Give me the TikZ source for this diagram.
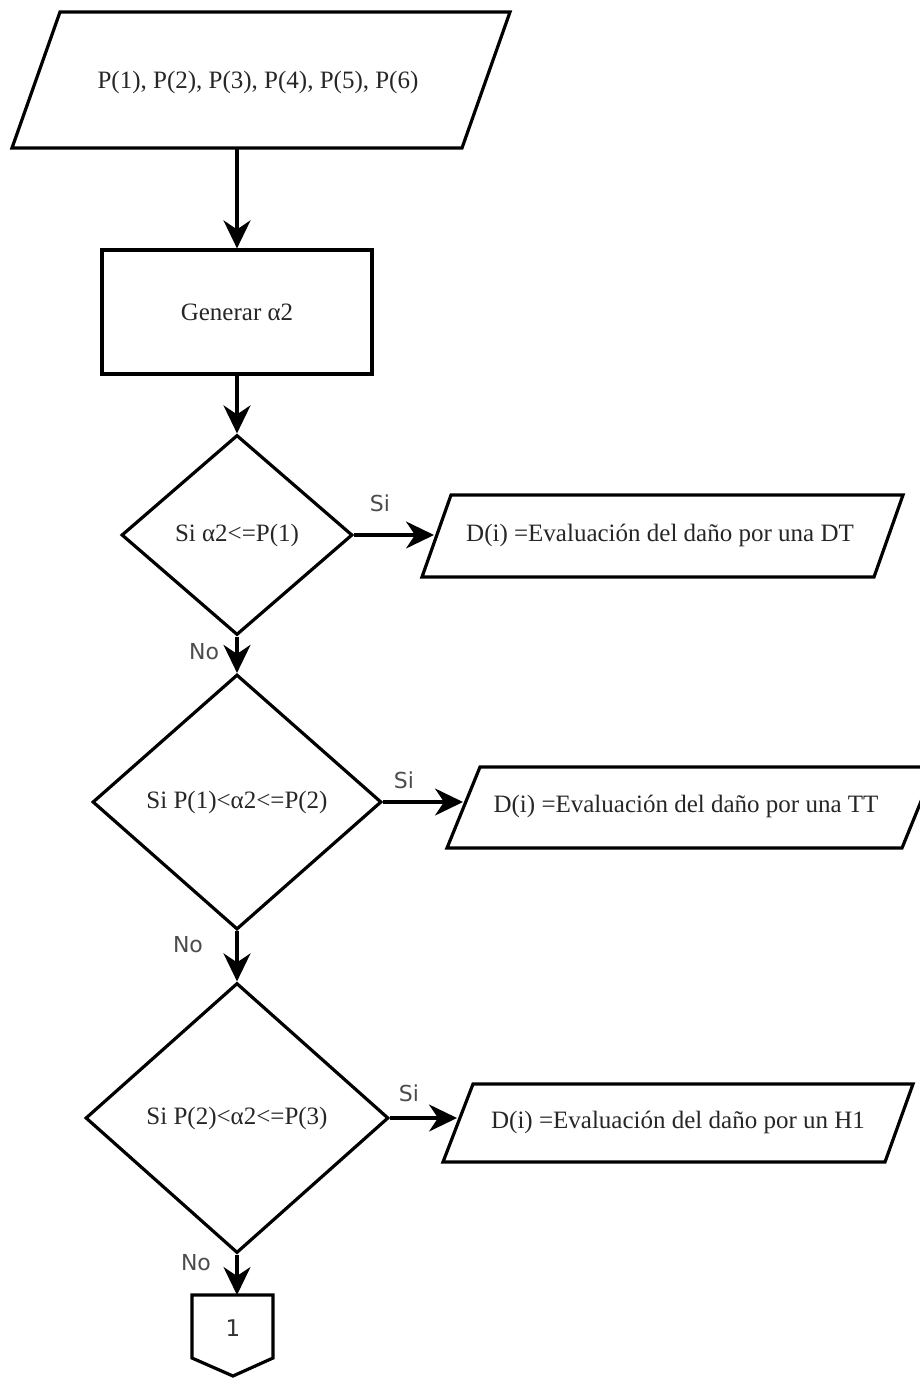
\documentclass[tikz,border=0pt]{standalone}
\usepackage{fontspec}
\setmainfont{Liberation Serif}
\newfontfamily\labelfont{DejaVu Sans}
\usetikzlibrary{shapes.geometric,arrows.meta}

\begin{document}
\begin{tikzpicture}[x=1pt,y=-1pt,
  outline/.style={line width=3.2pt, line join=miter, draw=black},
  boxtext/.style={font=\fontsize{25}{27}\selectfont, text=black!85, inner sep=0pt},
  decision/.style={diamond, outline, inner sep=0pt, boxtext},
  process/.style={rectangle, outline, boxtext},
  flow/.style={line width=3.2pt, -{Stealth[length=28pt,width=27pt,inset=9pt]}},
  answer/.style={font=\labelfont\fontsize{22}{24}\selectfont, text=black!70, inner sep=0pt}]
\useasboundingbox (0,0) rectangle (920,1378);

% input data
\coordinate (in-tl) at (60,12);   \coordinate (in-tr) at (510,12);
\coordinate (in-br) at (462,148); \coordinate (in-bl) at (12,148);
\draw[outline] (in-tl) -- (in-tr) -- (in-br) -- (in-bl) -- cycle;
\node[boxtext] (in) at (258,82) {P(1), P(2), P(3), P(4), P(5), P(6)};
\coordinate (in-out) at (237,148);

% generate random number
\node[process, minimum width=270pt, minimum height=124pt] (gen) at (237,312) {Generar α2};

% decisions
\node[decision, minimum width=231pt, minimum height=200pt] (d1) at (237,535) {Si α2<=P(1)};
\node[decision, minimum width=289pt, minimum height=255pt] (d2) at (237,802) {Si P(1)<α2<=P(2)};
\node[decision, minimum width=303pt, minimum height=270pt] (d3) at (237,1118) {Si P(2)<α2<=P(3)};

% outputs
\coordinate (o1-tl) at (451,495); \coordinate (o1-tr) at (903,495);
\coordinate (o1-br) at (874,577); \coordinate (o1-bl) at (422,577);
\draw[outline] (o1-tl) -- (o1-tr) -- (o1-br) -- (o1-bl) -- cycle;
\node[boxtext] (o1) at (660,535) {D(i) =Evaluación del daño por una DT};
\coordinate (o1-in) at (434,535);

\coordinate (o2-tl) at (480,767); \coordinate (o2-tr) at (935,767);
\coordinate (o2-br) at (902,848); \coordinate (o2-bl) at (447,848);
\draw[outline] (o2-tl) -- (o2-tr) -- (o2-br) -- (o2-bl) -- cycle;
\node[boxtext] (o2) at (686,806) {D(i) =Evaluación del daño por una TT};
\coordinate (o2-in) at (463,802);

\coordinate (o3-tl) at (473,1084); \coordinate (o3-tr) at (913,1084);
\coordinate (o3-br) at (885,1162); \coordinate (o3-bl) at (443,1162);
\draw[outline] (o3-tl) -- (o3-tr) -- (o3-br) -- (o3-bl) -- cycle;
\node[boxtext] (o3) at (678,1122) {D(i) =Evaluación del daño por un H1};
\coordinate (o3-in) at (457,1118);

% off-page connector
\coordinate (c-tl) at (192,1295); \coordinate (c-tr) at (273,1295);
\coordinate (c-r) at (273,1358);  \coordinate (c-b) at (233,1376);
\coordinate (c-l) at (192,1358);
\draw[outline] (c-tl) -- (c-tr) -- (c-r) -- (c-b) -- (c-l) -- cycle;
\node[answer, text=black!80, font=\labelfont\fontsize{23}{25}\selectfont] (c1) at (233,1328) {1};
\coordinate (c-in) at (237,1295);

% connectors
\draw[flow] (in-out) -- (gen.north);
\draw[flow] (gen.south) -- (d1.north);
\draw[flow] (d1.south) -- (d2.north);
\draw[flow] (d2.south) -- (d3.north);
\draw[flow] (d3.south) -- (c-in);
\draw[flow] (d1.east) -- (o1-in);
\draw[flow] (d2.east) -- (o2-in);
\draw[flow] (d3.east) -- (o3-in);

% branch labels
\node[answer] (s1) at (380,503) {Si};
\node[answer] (s2) at (404,780) {Si};
\node[answer] (s3) at (409,1093) {Si};
\node[answer] (n1) at (204,652) {No};
\node[answer] (n2) at (188,945) {No};
\node[answer] (n3) at (196,1263) {No};
\end{tikzpicture}
\end{document}
